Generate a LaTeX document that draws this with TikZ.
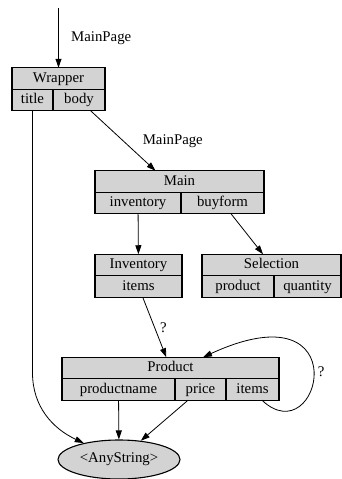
\documentclass[tikz,border=0pt]{standalone}
\usepackage{fontspec}
\setmainfont{Liberation Serif}
\usetikzlibrary{positioning,shapes.geometric,arrows.meta}
\definecolor{cellgray}{RGB}{211,211,211}
\tikzset{
  cell/.style={draw=black,line width=1.1pt,fill=cellgray,minimum height=21.5pt,inner sep=0pt,outer sep=0pt,
    text height=10pt,text depth=3pt,font=\fontsize{14.8}{16}\selectfont},
  edge/.style={line width=0.8pt,-{Triangle[length=9pt,width=6pt]}},
  lbl/.style={font=\fontsize{14.8}{16}\selectfont}
}

\begin{document}
\begin{tikzpicture}[x=1pt,y=1pt]
        \useasboundingbox (0,0) rectangle (342,-479);

        \node[cell,minimum width=93pt] (wrapper) at (58.5,-78.5) {Wrapper};
        \node[cell,minimum width=41pt,below right=0pt of wrapper.south west] (wtitle) {title};
        \node[cell,minimum width=52pt,right=0pt of wtitle] (wbody) {body};

        \node[cell,minimum width=169pt] (main) at (179.5,-181.5) {Main};
        \node[cell,minimum width=86pt,below right=0pt of main.south west] (minv) {inventory};
        \node[cell,minimum width=83pt,right=0pt of minv] (mbuy) {buyform};

        \node[cell,minimum width=87pt] (inventory) at (138.5,-265) {Inventory};
        \node[cell,minimum width=87pt,below=0pt of inventory] (iitems) {items};

        \node[cell,minimum width=139pt] (selection) at (271.5,-265) {Selection};
        \node[cell,minimum width=72pt,below right=0pt of selection.south west] (sprod) {product};
        \node[cell,minimum width=67pt,right=0pt of sprod] (squant) {quantity};

        \node[cell,minimum width=217pt] (product) at (170.5,-368) {Product};
        \node[cell,minimum width=113pt,below right=0pt of product.south west] (pname) {productname};
        \node[cell,minimum width=51pt,right=0pt of pname] (pprice) {price};
        \node[cell,minimum width=53pt,right=0pt of pprice] (pitems) {items};

        \node[draw=black,line width=1.1pt,fill=cellgray,ellipse,minimum width=122pt,minimum height=39pt,
          inner sep=0pt,font=\fontsize{14.8}{16}\selectfont] (anystring) at (119,-459.5) {<AnyString>};

        \coordinate (start) at (58.5,-8);

        \draw[edge] (start) -- node[lbl,right=9pt]{MainPage} (wrapper);
        \draw[edge] (wbody) -- node[lbl,right=16pt]{MainPage} ([xshift=-24pt]main.north);
        \draw[edge] (minv) -- (inventory);
        \draw[edge] (mbuy) -- (selection);
        \draw[edge] (iitems) -- node[lbl,right=2pt]{?} (product);
        \draw[edge] ([xshift=9.5pt]pitems.south) .. controls (320,-455) and (360,-285) .. node[lbl,pos=0.5,right=1pt]{?} ([xshift=32.5pt]product.north);
        \draw[edge] (pname) -- (anystring);
        \draw[edge] (pprice) -- (anystring);
        \draw[edge] (wtitle.south) -- ++(0,-262) to[out=-90,in=155] (anystring);
\end{tikzpicture}
\end{document}
